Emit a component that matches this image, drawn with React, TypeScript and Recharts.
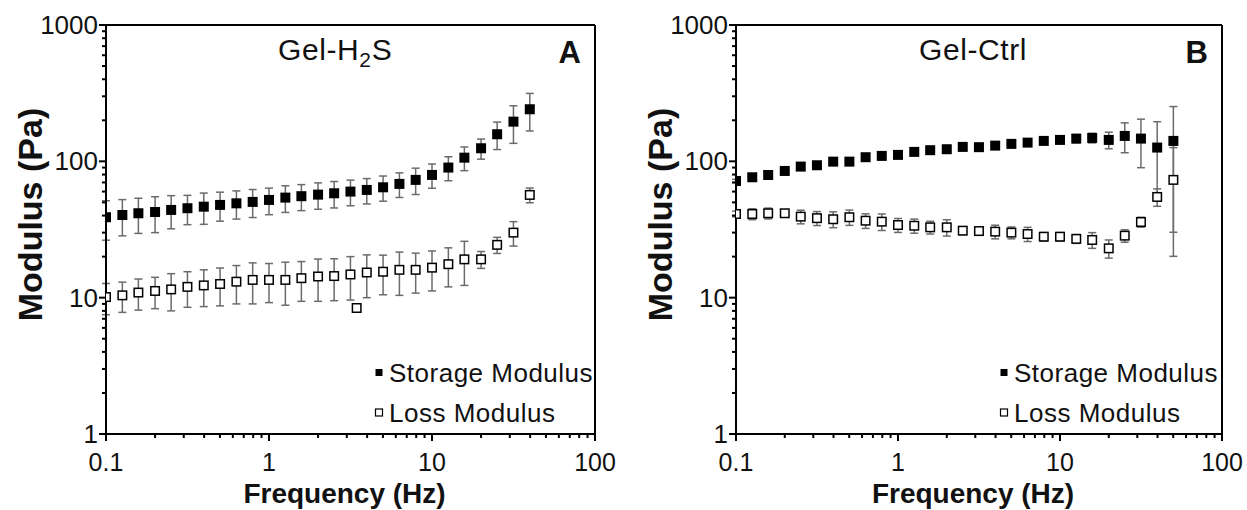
import { ScatterChart, Scatter, XAxis, YAxis, ErrorBar, ReferenceLine } from "recharts";

// frequency sweep (Hz)
const freqA = [0.1, 0.126, 0.158, 0.2, 0.251, 0.316, 0.398, 0.501, 0.631, 0.794, 1, 1.26, 1.58, 2, 2.51, 3.16, 3.98, 5.01, 6.31, 7.94, 10, 12.6, 15.8, 20, 25.1, 31.6, 39.8];
const freqB = [0.1, 0.126, 0.158, 0.2, 0.251, 0.316, 0.398, 0.501, 0.631, 0.794, 1, 1.26, 1.58, 2, 2.51, 3.16, 3.98, 5.01, 6.31, 7.94, 10, 12.6, 15.8, 20, 25.1, 31.6, 39.8, 50.1];

// Gel-H2S
const storageA = [38.9, 40.4, 41.6, 42.5, 44.0, 45.3, 46.5, 47.9, 49.2, 50.4, 52.1, 54.2, 55.5, 57.0, 58.3, 60.0, 61.7, 64.5, 68.3, 73.1, 79.5, 90.0, 106.4, 124.7, 158, 195.5, 241];
const storageAErr = [12.5, 12, 12, 12.5, 12, 11, 12, 11.5, 11.5, 11.7, 11.5, 12, 12, 12.5, 12.8, 12.8, 13, 13.5, 14, 16, 16, 18, 21, 21, 36, 60, 74];
const lossA = [10.1, 10.4, 10.9, 11.2, 11.5, 12.0, 12.3, 12.6, 13.1, 13.5, 13.5, 13.5, 13.9, 14.3, 14.4, 14.8, 15.3, 15.5, 16.0, 16.0, 16.6, 17.6, 19.1, 19.1, 24.4, 30.0, 56.7];
const lossAErr = [2.6, 2.6, 2.8, 2.9, 3.5, 3.5, 3.7, 3.9, 4.1, 4.5, 4.3, 4.7, 4.5, 4.9, 4.9, 5.2, 5.3, 5.0, 5.6, 5.2, 5.4, 5.6, 6.8, 2.7, 3.3, 6.1, 7];
// stray loss point without error bar
const lossAExtraFreq = [3.45];
const lossAExtra = [8.4];

// Gel-Ctrl
const storageB = [71.8, 76.4, 79.4, 85.0, 91.5, 93.6, 99.5, 99.5, 107.2, 109.6, 111.5, 117.3, 120.7, 122.7, 127.6, 127, 130.4, 134.3, 137.2, 141.2, 143.6, 146.8, 148.5, 143.6, 153.6, 146.8, 126.2, 141.2];
const storageBErr = [2, 2, 2, 3, 3, 3, 4, 4, 4, 5, 5, 5, 6, 6, 6, 7, 7, 8, 8, 8, 8, 10, 12, 20, 38, 57, 69, 111];
const lossB = [41.1, 41.1, 41.6, 41.6, 39.3, 38.3, 37.6, 38.9, 36.7, 36.1, 34.1, 33.7, 32.8, 32.8, 31.0, 30.8, 30.5, 30.0, 29.3, 28.0, 28.0, 27.0, 26.5, 23.0, 28.5, 35.9, 54.8, 73.1];
const lossBErr = [2, 3.8, 3.8, 2, 4.5, 4.5, 5, 5, 4.5, 5, 4, 4, 3.5, 4.5, 2, 2, 3.5, 3, 3.5, 2, 2, 2, 3.5, 3.5, 3, 3, 8, 53];

const xMajor = [0.1, 1, 10, 100];
const xTicks = [0.1, 0.2, 0.3, 0.4, 0.5, 0.6, 0.7, 0.8, 0.9, 1, 2, 3, 4, 5, 6, 7, 8, 9, 10, 20, 30, 40, 50, 60, 70, 80, 90, 100];
const yMajor = [1, 10, 100, 1000];
const yTicks = [1, 2, 3, 4, 5, 6, 7, 8, 9, 10, 20, 30, 40, 50, 60, 70, 80, 90, 100, 200, 300, 400, 500, 600, 700, 800, 900, 1000];

const FONT = '"Liberation Sans", Arial, sans-serif';
const INK = "#111";
const BAR = "#6b6b6b";

const XTick = (props: any) => {
  const { x, y, payload } = props;
  const major = xMajor.includes(payload.value);
  return (
    <g>
      <line x1={x} x2={x} y1={y} y2={y + (major ? 7 : 4)} stroke="#000" strokeWidth={2} />
      {major && (
        <text x={x} y={y + 37} textAnchor="middle" fontSize={25} fill={INK} fontFamily={FONT}>
          {payload.value}
        </text>
      )}
    </g>
  );
};

const YTick = (props: any) => {
  const { x, y, payload } = props;
  const major = yMajor.includes(payload.value);
  return (
    <g>
      <line x1={x} x2={x - (major ? 7 : 4)} y1={y} y2={y} stroke="#000" strokeWidth={2} />
      {major && (
        <text x={x - 8} y={y + 9} textAnchor="end" fontSize={26} fill={INK} fontFamily={FONT}>
          {payload.value}
        </text>
      )}
    </g>
  );
};

const xTitle = (props: any) => {
  const { viewBox } = props;
  return (
    <text x={viewBox.x + viewBox.width / 2 - 6} y={viewBox.y + 69} textAnchor="middle" fontSize={28} fontWeight="bold" fill={INK} fontFamily={FONT}>
      Frequency (Hz)
    </text>
  );
};

const yTitle = (props: any) => {
  const { viewBox } = props;
  const x = viewBox.x + 42;
  const y = viewBox.y + viewBox.height / 2 - 15;
  return (
    <text x={x} y={y} transform={`rotate(-90, ${x}, ${y})`} textAnchor="middle" fontSize={34} fontWeight="bold" fill={INK} fontFamily={FONT}>
      Modulus (Pa)
    </text>
  );
};

const filledSquare = (p: any) => <rect x={p.cx - 5} y={p.cy - 5} width={10} height={10} fill="#000" />;
const openSquare = (p: any) => (
  <rect x={p.cx - 4.25} y={p.cy - 4.25} width={8.5} height={8.5} fill="#fff" stroke="#000" strokeWidth={1.5} />
);

function LegendBox({ x, y }: { x: number; y: number }) {
  return (
    <g fontFamily={FONT} fontSize={26} fill={INK} letterSpacing={0.5}>
      <rect x={x - 3.5} y={y - 4} width={7} height={7} fill="#000" />
      <text x={x + 10} y={y + 9}>Storage Modulus</text>
      <rect x={x - 3.5} y={y + 36} width={7} height={7} fill="#fff" stroke="#000" strokeWidth={1.2} />
      <text x={x + 10} y={y + 49}>Loss Modulus</text>
    </g>
  );
}

function Panel(props: {
  width: number;
  freq: number[];
  storage: number[];
  storageErr: number[];
  loss: number[];
  lossErr: number[];
  extraFreq?: number[];
  extraLoss?: number[];
  title: React.ReactNode;
  letter: string;
  titleX: number;
  legendX: number;
}) {
  const storageData = props.freq.map((f, i) => ({ f, v: props.storage[i], e: props.storageErr[i] }));
  const lossData = props.freq.map((f, i) => ({ f, v: props.loss[i], e: props.lossErr[i] }));
  (props.extraFreq || []).forEach((f, i) => lossData.push({ f, v: (props.extraLoss || [])[i], e: 0 }));
  const right = props.width - 25;
  return (
    <ScatterChart width={props.width} height={510} margin={{ top: 25, right: 25, bottom: 0, left: 0 }}>
      <XAxis
        dataKey="f"
        type="number"
        scale="log"
        domain={[0.1, 100]}
        ticks={xTicks}
        interval={0}
        tick={<XTick />}
        tickLine={false}
        tickSize={0}
        tickMargin={0}
        height={76}
        axisLine={{ stroke: "#000", strokeWidth: 2 }}
        allowDataOverflow
        label={xTitle}
      />
      <YAxis
        dataKey="v"
        type="number"
        scale="log"
        domain={[1, 1000]}
        ticks={yTicks}
        interval={0}
        tick={<YTick />}
        tickLine={false}
        tickSize={0}
        tickMargin={0}
        width={106}
        axisLine={{ stroke: "#000", strokeWidth: 2 }}
        allowDataOverflow
        label={yTitle}
      />
      <ReferenceLine y={1000} stroke="#000" strokeWidth={2} />
      <ReferenceLine x={100} stroke="#000" strokeWidth={2} />
      <Scatter name="Storage Modulus" data={storageData} shape={filledSquare} isAnimationActive={false}>
        <ErrorBar dataKey="e" direction="y" width={4} stroke={BAR} strokeWidth={1.5} />
      </Scatter>
      <Scatter name="Loss Modulus" data={lossData} shape={openSquare} isAnimationActive={false}>
        <ErrorBar dataKey="e" direction="y" width={4} stroke={BAR} strokeWidth={1.5} />
      </Scatter>
      <text x={props.titleX} y={60} fontSize={30} letterSpacing={0.6} fill={INK} fontFamily={FONT}>
        {props.title}
      </text>
      <text x={right - 14} y={63} textAnchor="end" fontSize={31} fontWeight="bold" fill={INK} fontFamily={FONT}>
        {props.letter}
      </text>
      <LegendBox x={props.legendX} y={373} />
    </ScatterChart>
  );
}

export default function App() {
  return (
    <div style={{ position: "absolute", left: 0, top: 0, width: 1247, height: 510, background: "#fff" }}>
      <div style={{ position: "absolute", left: 0, top: 0 }}>
        <Panel
          width={620}
          freq={freqA}
          storage={storageA}
          storageErr={storageAErr}
          loss={lossA}
          lossErr={lossAErr}
          extraFreq={lossAExtraFreq}
          extraLoss={lossAExtra}
          title={
            <>
              Gel-H<tspan fontSize={21} dy={7}>2</tspan>
              <tspan dy={-7}>S</tspan>
            </>
          }
          letter="A"
          titleX={278}
          legendX={379}
        />
      </div>
      <div style={{ position: "absolute", left: 630, top: 0 }}>
        <Panel
          width={617}
          freq={freqB}
          storage={storageB}
          storageErr={storageBErr}
          loss={lossB}
          lossErr={lossBErr}
          title="Gel-Ctrl"
          letter="B"
          titleX={289}
          legendX={374}
        />
      </div>
    </div>
  );
}
